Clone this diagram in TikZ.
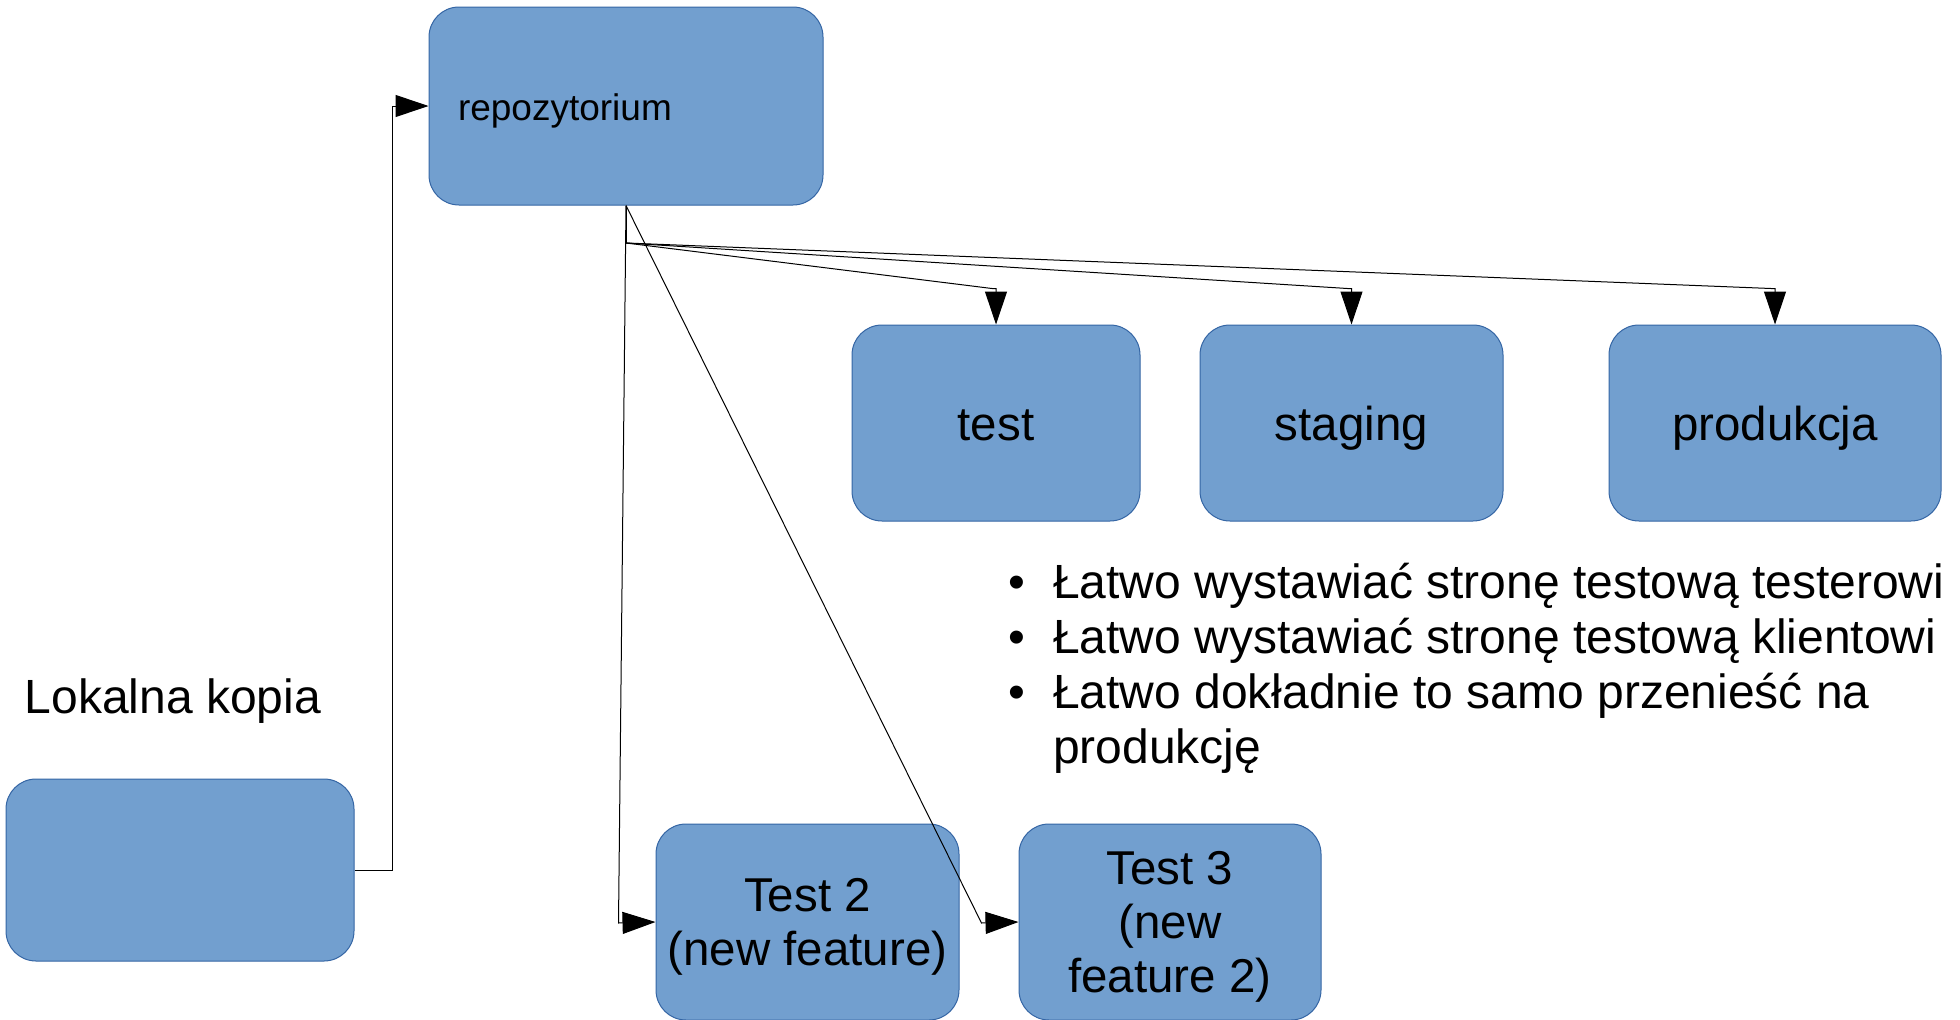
\documentclass[tikz,border=0pt]{standalone}
\usepackage{fontspec}
\setmainfont{Liberation Sans}
\usetikzlibrary{arrows.meta}
\definecolor{boxfill}{HTML}{729FCF}
\definecolor{boxline}{HTML}{3465A4}
\begin{document}
\begin{tikzpicture}[x=1pt,y=-1pt,
  box/.style={draw=boxline, fill=boxfill, line width=1pt, rounded corners=30pt,
    inner sep=0pt, align=center, font=\fontsize{47.5}{54}\selectfont, text depth=0pt},
  onebox/.style={box, text height=34pt},
  conn/.style={draw=black, line width=1pt, -{Triangle[length=33pt,width=22pt]}},
  plainline/.style={draw=black, line width=1pt},
  txt/.style={inner sep=0pt, anchor=base west, font=\fontsize{48}{55}\selectfont},
  bul/.style={inner sep=0pt, anchor=base, font=\fontsize{48}{55}\selectfont}]
\useasboundingbox (0,0) rectangle (1960,1020);

\node[box, minimum width=394pt, minimum height=198pt, text width=336pt, align=left,
  font=\fontsize{37}{44}\selectfont, text height=28pt] (repo) at (626,106) {repozytorium};
\node[box, minimum width=348pt, minimum height=182pt] (local) at (180,870) {};
\node[onebox, minimum width=288pt, minimum height=196pt] (test) at (996,423) {test};
\node[onebox, minimum width=303pt, minimum height=196pt] (staging) at (1351.5,423) {staging};
\node[onebox, minimum width=332pt, minimum height=196pt] (prod) at (1775,423) {produkcja};
\node[box, minimum width=303pt, minimum height=196pt] (test2) at (807.5,922) {Test 2\\(new feature)};
\node[box, minimum width=302pt, minimum height=196pt] (test3) at (1170,922) {Test 3\\(new\\feature 2)};

\node[txt] (lk) at (24.5,713) {Lokalna kopia};

\node[bul] (b1) at (1017,598) {•};
\node[txt] (t1) at (1053,598) {Łatwo wystawiać stronę testową testerowi};
\node[bul] (b2) at (1017,653) {•};
\node[txt] (t2) at (1053,653) {Łatwo wystawiać stronę testową klientowi};
\node[bul] (b3) at (1017,708) {•};
\node[txt] (t3) at (1053,708) {Łatwo dokładnie to samo przenieść na};
\node[txt] (t4) at (1053,763) {produkcję};

\coordinate (F) at (626,243);

\draw[conn] (local.east) -- ++(38,0) |- (repo.west);
\draw[plainline] (repo.south) -- (F);
\draw[conn] (F) -- ([xshift=-4pt,yshift=36pt]test.north) -- ([yshift=36pt]test.north) -- (test.north);
\draw[conn] (F) -- ([xshift=-4pt,yshift=36pt]staging.north) -- ([yshift=36pt]staging.north) -- (staging.north);
\draw[conn] (F) -- ([xshift=-4pt,yshift=36pt]prod.north) -- ([yshift=36pt]prod.north) -- (prod.north);
\draw[conn] (repo.south) -- ([xshift=-37pt,yshift=-1pt]test2.west) -- (test2.west);
\draw[conn] (repo.south) -- ([xshift=-37pt,yshift=-1pt]test3.west) -- (test3.west);
\end{tikzpicture}
\end{document}
